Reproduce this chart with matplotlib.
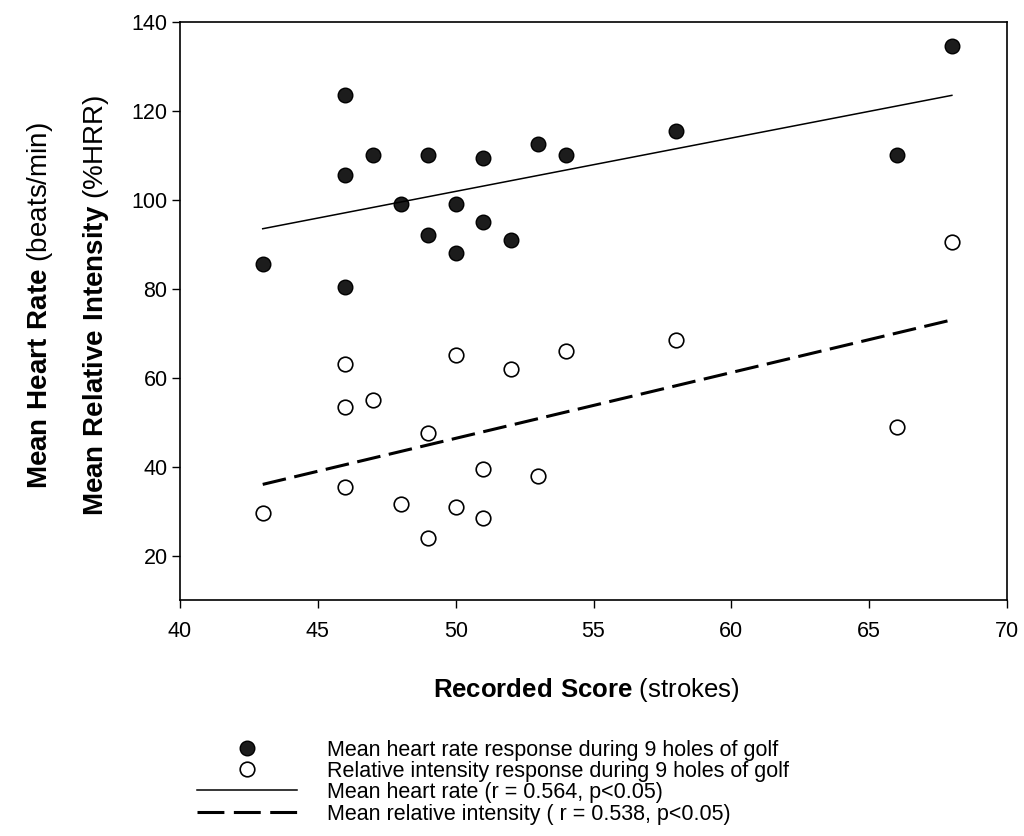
import matplotlib
matplotlib.use("Agg")
import matplotlib.pyplot as plt
from matplotlib.lines import Line2D

# --- Data ---
score_hr = [43, 46, 46, 46, 47, 48, 49, 49, 50, 50, 51, 51, 52, 53, 54, 58, 66, 68]
heart_rate = [85.5, 123.5, 105.5, 80.5, 110, 99, 110, 92, 99, 88, 109.5, 95, 91, 112.5, 110, 115.5, 110, 134.5]

score_ri = [43, 46, 46, 46, 47, 48, 49, 49, 50, 50, 51, 51, 52, 53, 54, 58, 66, 68]
rel_intensity = [29.5, 63, 53.5, 35.5, 55, 31.5, 47.5, 24, 65, 31, 39.5, 28.5, 62, 38, 66, 68.5, 49, 90.5]

# regression lines (end points)
fit_x = [43, 68]
hr_fit = [93.5, 123.5]
ri_fit = [36, 73]

legend_labels = [
    "Mean heart rate response during 9 holes of golf",
    "Relative intensity response during 9 holes of golf",
    "Mean heart rate (r = 0.564, p<0.05)",
    "Mean relative intensity ( r = 0.538, p<0.05)",
]

# --- Fonts ---
plt.rcParams["font.family"] = ["Liberation Sans", "DejaVu Sans"]
plt.rcParams["mathtext.fontset"] = "custom"
plt.rcParams["mathtext.rm"] = "Liberation Sans"
plt.rcParams["mathtext.bf"] = "Liberation Sans:bold"

fig = plt.figure(figsize=(10.24, 8.36), dpi=100)
ax = fig.add_axes([0.1758, 0.2823, 0.8076, 0.6914])

filled = dict(marker="o", markersize=10.5, markerfacecolor="#1c1c1c",
              markeredgecolor="black", markeredgewidth=1.0, linestyle="none")
hollow = dict(marker="o", markersize=10.5, markerfacecolor="white",
              markeredgecolor="black", markeredgewidth=1.2, linestyle="none")
solid = dict(color="black", linewidth=1.1)
dashed = dict(color="black", linewidth=2.2, dashes=(7.8, 2.8))

ax.plot(score_hr, heart_rate, **filled)
ax.plot(score_ri, rel_intensity, **hollow)
ax.plot(fit_x, hr_fit, **solid)
ax.plot(fit_x, ri_fit, **dashed)

ax.set_xlim(40, 70)
ax.set_ylim(10, 140)
ax.set_xticks(range(40, 71, 5))
ax.set_yticks(range(20, 141, 20))
ax.tick_params(axis="both", direction="out", length=6, width=1, labelsize=15.5)
ax.tick_params(axis="y", pad=3)
ax.tick_params(axis="x", pad=9)
for s in ax.spines.values():
    s.set_linewidth(1.2)

# --- Axis titles ---
fig.text(0.572, 0.1746, r"$\bf{Recorded\ Score}$ (strokes)", fontsize=18.5,
         ha="center", va="center")
fig.text(0.039, 0.635, r"$\bf{Mean\ Heart\ Rate}$ (beats/min)", rotation=90,
         fontsize=20, ha="center", va="center")
fig.text(0.094, 0.635, r"$\bf{Mean\ Relative\ Intensity}$ (%HRR)", rotation=90,
         fontsize=20, ha="center", va="center")

# --- Legend (drawn by hand to match the row spacing) ---
W, H = 1024.0, 836.0
rows_y = [748, 769, 790, 812]
legend_dashed = dict(dashed, dashes=(8.8, 3.1))
handle_styles = [filled, hollow, solid, legend_dashed]
for y, style, label in zip(rows_y, handle_styles, legend_labels):
    fy = 1 - y / H
    if style.get("marker"):
        fig.add_artist(Line2D([247 / W], [fy], transform=fig.transFigure, **style))
    else:
        fig.add_artist(Line2D([197 / W, 297 / W], [fy, fy], transform=fig.transFigure, **style))
    fig.text(327 / W, fy, label, fontsize=15.5, ha="left", va="center_baseline")

fig.savefig("out.png", dpi=100)
